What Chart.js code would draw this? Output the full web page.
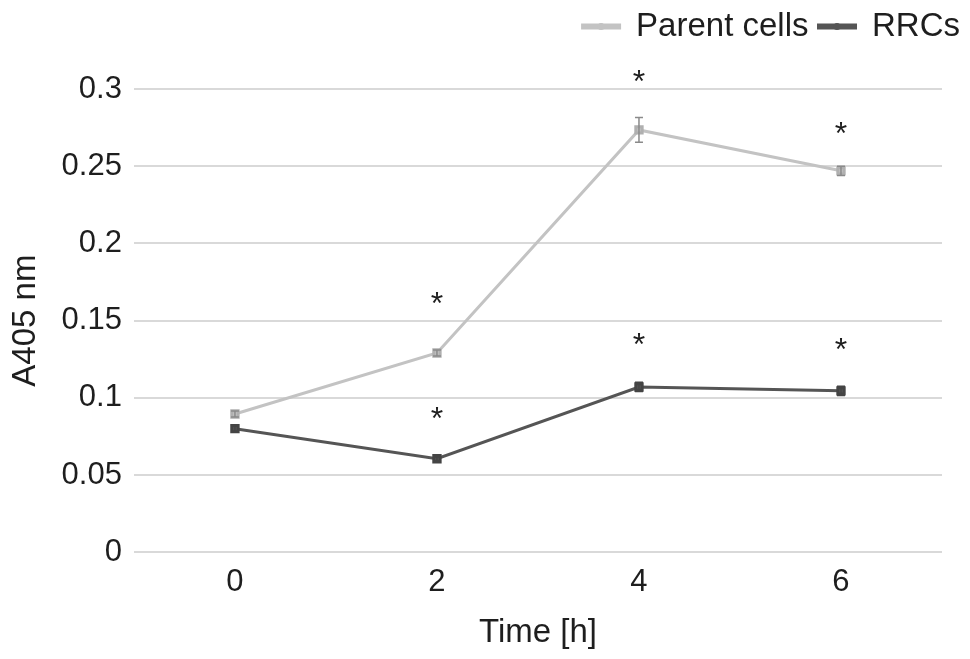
<!DOCTYPE html>
<html>
<head>
<meta charset="utf-8">
<script src="https://cdn.jsdelivr.net/npm/chart.js@4.4.1/dist/chart.umd.min.js"></script>
<style>
  html, body { margin: 0; padding: 0; background: #fff; }
  #wrap { width: 970px; height: 659px; }
</style>
</head>
<body>
<div id="wrap"><canvas id="chart"></canvas></div>
<script>
const timeLabels = ["0", "2", "4", "6"];
const parentValues = [0.0895, 0.129, 0.2735, 0.247];
const parentErrors = [0.002, 0.002, 0.008, 0.003];
const rrcValues = [0.080, 0.0605, 0.107, 0.1045];
const rrcErrors = [0.002, 0.0012, 0.003, 0.003];
// heights of the significance asterisks, in axis units
const parentStars = [null, 0.166, 0.310, 0.276];
const rrcStars = [null, 0.0915, 0.1395, 0.1365];
const yTicks = [0, 0.05, 0.1, 0.15, 0.2, 0.25, 0.3];

const FONT = "'Liberation Sans', Arial, sans-serif";
const textColor = "#1e1e1e";
const LEGEND_SHIFT = 28;

const errorBars = {
  id: "errorBars",
  afterDatasetsDraw(chart) {
    const ctx = chart.ctx;
    const y = chart.scales.y;
    const sets = [
      { idx: 0, err: parentErrors, color: "#8a8a8a" },
      { idx: 1, err: rrcErrors, color: "#444444" },
    ];
    ctx.save();
    sets.forEach((s) => {
      const meta = chart.getDatasetMeta(s.idx);
      const vals = chart.data.datasets[s.idx].data;
      meta.data.forEach((pt, i) => {
        const top = y.getPixelForValue(vals[i] + s.err[i]);
        const bot = y.getPixelForValue(vals[i] - s.err[i]);
        ctx.strokeStyle = s.color;
        ctx.lineWidth = 1.5;
        ctx.beginPath();
        ctx.moveTo(pt.x, top);
        ctx.lineTo(pt.x, bot);
        ctx.moveTo(pt.x - 4, top);
        ctx.lineTo(pt.x + 4, top);
        ctx.moveTo(pt.x - 4, bot);
        ctx.lineTo(pt.x + 4, bot);
        ctx.stroke();
      });
    });
    ctx.restore();
  },
};

const stars = {
  id: "stars",
  afterDatasetsDraw(chart) {
    const ctx = chart.ctx;
    const x = chart.scales.x;
    const y = chart.scales.y;
    ctx.save();
    ctx.fillStyle = textColor;
    ctx.font = "32px " + FONT;
    ctx.textAlign = "center";
    ctx.textBaseline = "alphabetic";
    [parentStars, rrcStars].forEach((arr) => {
      arr.forEach((v, i) => {
        if (v === null) return;
        ctx.fillText("*", x.getPixelForValue(i), y.getPixelForValue(v) + 0.57 * 32);
      });
    });
    ctx.restore();
  },
};

// legend: a bit further right than the plot, extra room below it, dot on each line
const legendTweaks = {
  id: "legendTweaks",
  beforeInit(chart) {
    const origFit = chart.legend.fit;
    chart.legend.fit = function () {
      origFit.bind(chart.legend)();
      this.height += 36;
    };
  },
  beforeDraw(chart) {
    if (!chart.legend._shifted) {
      chart.legend.left += LEGEND_SHIFT;
      chart.legend.right += LEGEND_SHIFT;
      chart.legend._shifted = true;
    }
  },
  afterDraw(chart) {
    const lg = chart.legend;
    const ctx = chart.ctx;
    const bw = lg.options.labels.boxWidth;
    ctx.save();
    (lg.legendHitBoxes || []).forEach((hb, i) => {
      const ds = chart.data.datasets[i];
      ctx.fillStyle = ds.borderColor;
      ctx.beginPath();
      ctx.arc(hb.left + LEGEND_SHIFT + bw / 2, hb.top + hb.height / 2, 3.5, 0, Math.PI * 2);
      ctx.fill();
    });
    ctx.restore();
  },
};

new Chart(document.getElementById("chart").getContext("2d"), {
  type: "line",
  data: {
    labels: timeLabels,
    datasets: [
      {
        label: "Parent cells",
        data: parentValues,
        borderColor: "#c3c3c3",
        backgroundColor: "#c3c3c3",
        borderWidth: 3,
        pointStyle: "rect",
        pointRadius: 4.5,
        pointBackgroundColor: "#c3c3c3",
        pointBorderColor: "#b0b0b0",
        tension: 0,
      },
      {
        label: "RRCs",
        data: rrcValues,
        borderColor: "#555555",
        backgroundColor: "#555555",
        borderWidth: 3,
        pointStyle: "rect",
        pointRadius: 4.5,
        pointBackgroundColor: "#555555",
        pointBorderColor: "#444444",
        tension: 0,
      },
    ],
  },
  options: {
    responsive: true,
    maintainAspectRatio: false,
    animation: false,
    layout: { padding: { left: 6, right: 28, top: 0, bottom: 6 } },
    plugins: {
      tooltip: { enabled: false },
      legend: {
        position: "top",
        align: "end",
        labels: {
          color: textColor,
          font: { family: FONT, size: 33 },
          boxWidth: 37,
          boxHeight: 3,
          padding: 10,
        },
      },
    },
    scales: {
      x: {
        offset: true,
        grid: { display: false, drawTicks: false },
        border: { display: false },
        ticks: { color: textColor, font: { family: FONT, size: 31 }, padding: 12 },
        title: {
          display: true,
          text: "Time [h]",
          color: textColor,
          font: { family: FONT, size: 33 },
          padding: { top: 0, bottom: 0 },
        },
      },
      y: {
        min: 0,
        max: 0.3,
        afterBuildTicks: (axis) => {
          axis.ticks = yTicks.map((v) => ({ value: v }));
        },
        grid: { color: "#d9d9d9", lineWidth: 2, drawTicks: false },
        border: { display: false },
        ticks: {
          color: textColor,
          font: { family: FONT, size: 31 },
          padding: 12,
          callback: (v) => String(+Number(v).toFixed(2)),
        },
        title: {
          display: true,
          text: "A405 nm",
          color: textColor,
          font: { family: FONT, size: 33 },
          padding: { top: 0, bottom: 4 },
        },
      },
    },
  },
  plugins: [errorBars, stars, legendTweaks],
});
</script>
</body>
</html>
